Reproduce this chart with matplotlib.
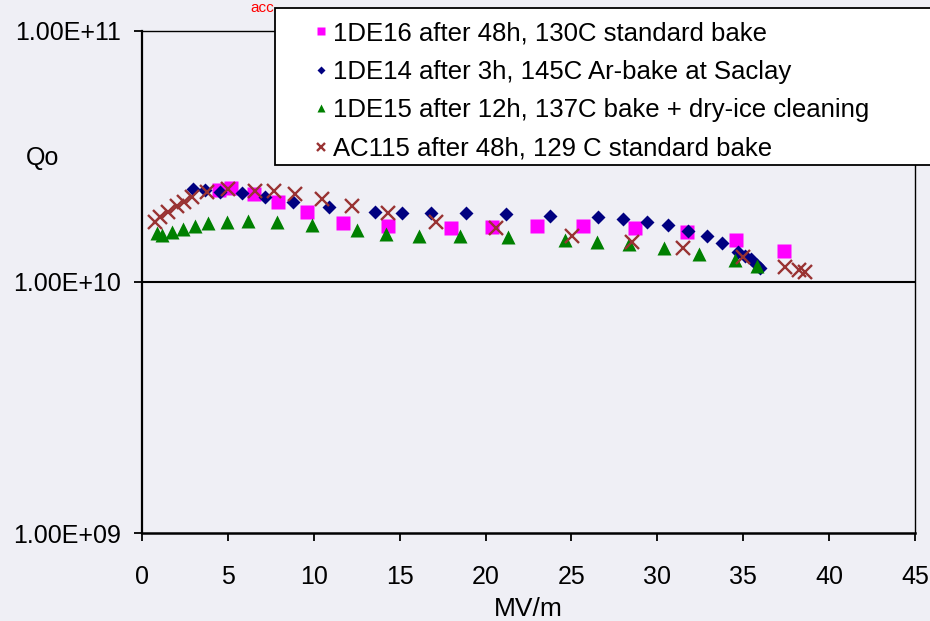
import matplotlib.pyplot as plt
from matplotlib.patches import Rectangle

plt.rcParams['font.family'] = ['Liberation Sans', 'DejaVu Sans']

# field (MV/m) and Qo (in units of 1e10)
e_1de16 = [4.5, 5.2, 6.5, 7.9, 9.6, 11.7, 14.3, 18.0, 20.4, 23.0, 25.7, 28.7, 31.7, 34.6, 37.4]
q_1de16 = [2.33, 2.36, 2.24, 2.08, 1.90, 1.72, 1.67, 1.64, 1.66, 1.67, 1.67, 1.64, 1.58, 1.47, 1.33]

e_1de14 = [2.97, 3.67, 4.54, 5.82, 7.16, 8.79, 10.88, 13.56, 15.13, 16.82, 18.86, 21.19, 23.75,
           26.54, 28.0, 29.39, 30.62, 31.78, 32.89, 33.76, 34.69, 35.1, 35.45, 35.8, 35.97]
q_1de14 = [2.35, 2.33, 2.28, 2.26, 2.18, 2.08, 1.99, 1.90, 1.88, 1.88, 1.88, 1.87, 1.83,
           1.81, 1.78, 1.73, 1.69, 1.60, 1.53, 1.43, 1.32, 1.27, 1.24, 1.17, 1.14]

e_1de15 = [0.87, 1.16, 1.75, 2.39, 3.08, 3.84, 4.95, 6.17, 7.86, 9.90, 12.51, 14.20, 16.12,
           18.51, 21.30, 24.62, 26.48, 28.35, 30.38, 32.42, 34.52, 35.80]
q_1de15 = [1.57, 1.54, 1.58, 1.63, 1.67, 1.72, 1.73, 1.75, 1.73, 1.69, 1.61, 1.55, 1.53,
           1.52, 1.51, 1.47, 1.44, 1.42, 1.37, 1.29, 1.22, 1.16]

e_ac115 = [0.76, 1.05, 1.51, 2.04, 2.44, 2.91, 3.78, 5.01, 6.58, 7.68, 8.91, 10.48, 12.22,
           14.32, 17.11, 20.61, 25.03, 28.52, 31.49, 34.98, 37.43, 38.24, 38.59]
q_ac115 = [1.73, 1.82, 1.90, 2.01, 2.08, 2.18, 2.28, 2.35, 2.31, 2.31, 2.24, 2.14, 2.01,
           1.88, 1.73, 1.64, 1.53, 1.44, 1.37, 1.26, 1.15, 1.12, 1.10]

labels = ['1DE16 after 48h, 130C standard bake',
          '1DE14 after 3h, 145C Ar-bake at Saclay',
          '1DE15 after 12h, 137C bake + dry-ice cleaning',
          'AC115 after 48h, 129 C standard bake']

bg = '#efeff5'
fig = plt.figure(figsize=(9.3, 6.21), dpi=100, facecolor=bg)
ax = fig.add_axes([0.1527, 0.1417, 0.8312, 0.8084], facecolor=bg)

sc = lambda v: [x * 1e10 for x in v]
ax.plot(e_1de16, sc(q_1de16), 's', color='#ff00ff', ms=9.5, mec='none', label=labels[0])
ax.plot(e_1de14, sc(q_1de14), 'D', color='#000080', ms=7.5, mec='none', label=labels[1])
ax.plot(e_1de15, sc(q_1de15), '^', color='#008000', ms=10, mec='none', label=labels[2])
ax.plot(e_ac115, sc(q_ac115), 'x', color='#993333', ms=9.5, mew=1.7, label=labels[3])

ax.set_yscale('log')
ax.set_ylim(1e9, 1e11)
ax.set_xlim(0, 45)
ax.set_xticks(range(0, 50, 5))
ax.set_yticks([1e9, 1e10, 1e11])
ax.set_yticklabels(['1.00E+09', '1.00E+10', '1.00E+11'])
ax.minorticks_off()
ax.axhline(1e10, color='black', lw=1.5, zorder=1)

for s in ax.spines.values():
    s.set_color('black')
    s.set_linewidth(1.0)
ax.spines['left'].set_linewidth(1.6)
ax.spines['bottom'].set_linewidth(1.8)

ax.tick_params(axis='x', direction='out', length=6, width=1.3, pad=17, labelsize=18)
ax.tick_params(axis='y', direction='out', length=6, width=1.3, pad=9, labelsize=18)
ax.set_xlabel('MV/m', fontsize=19, labelpad=6)
fig.text(43 / 930, 1 - 158 / 621, 'Qo', fontsize=18, ha='center', va='center')

# red title remnant at the top edge
fig.text(262 / 930, 1 - 1 / 621, 'acc', color='red', fontsize=11, ha='center', va='top')

ax.add_patch(Rectangle((275 / 930, 1 - 165 / 621), 660 / 930, 157 / 621,
                       transform=fig.transFigure, facecolor='white', edgecolor='black',
                       lw=1.3, clip_on=False, zorder=4.5))
ax.legend(loc='upper left', bbox_to_anchor=(312 / 930, 1 - 21 / 621),
          bbox_transform=fig.transFigure, frameon=False, fontsize=18.5,
          markerscale=0.55, handlelength=0.7, handletextpad=0.1,
          labelspacing=0.57, borderpad=0, borderaxespad=0)

fig.savefig('out.png', dpi=100, facecolor=bg)
